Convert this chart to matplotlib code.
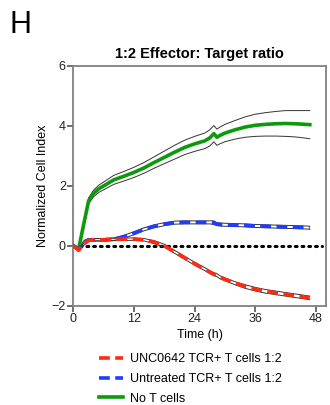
import matplotlib.pyplot as plt
from matplotlib.lines import Line2D

plt.rcParams['font.family'] = ['Liberation Sans', 'DejaVu Sans']

# time points (h)
t = [0, 1, 2, 3, 4, 5, 6, 8, 10, 12, 14, 16, 18, 20, 22, 24, 26, 27, 27.8, 28.4,
     29, 30, 32, 34, 36, 38, 40, 42, 44, 46, 46.8]

no_t = [0, -0.12, 0.7, 1.5, 1.75, 1.9, 2.0, 2.2, 2.32, 2.45, 2.6, 2.78, 2.95, 3.12,
        3.28, 3.4, 3.5, 3.6, 3.74, 3.62, 3.68, 3.76, 3.87, 3.96, 4.02, 4.05, 4.07,
        4.08, 4.07, 4.05, 4.04]
no_t_sd = [0, 0.04, 0.08, 0.1, 0.11, 0.12, 0.13, 0.15, 0.16, 0.17, 0.18, 0.19, 0.21,
           0.23, 0.24, 0.25, 0.26, 0.27, 0.27, 0.27, 0.28, 0.29, 0.31, 0.34, 0.37,
           0.39, 0.41, 0.43, 0.44, 0.46, 0.47]

untreated = [0, -0.12, 0.12, 0.2, 0.2, 0.2, 0.2, 0.22, 0.3, 0.42, 0.55, 0.65, 0.72,
             0.77, 0.78, 0.78, 0.78, 0.78, 0.77, 0.72, 0.71, 0.7, 0.69, 0.68, 0.66,
             0.65, 0.64, 0.63, 0.62, 0.61, 0.6]
untreated_sd = [0.02, 0.03, 0.04, 0.04, 0.04, 0.04, 0.04, 0.04, 0.05, 0.05, 0.05,
                0.05, 0.05, 0.05, 0.05, 0.05, 0.05, 0.05, 0.06, 0.05, 0.05, 0.05,
                0.05, 0.05, 0.05, 0.05, 0.05, 0.05, 0.05, 0.05, 0.05]

unc0642 = [0, -0.15, 0.05, 0.18, 0.2, 0.2, 0.2, 0.21, 0.22, 0.22, 0.2, 0.12, 0.0,
           -0.2, -0.4, -0.6, -0.78, -0.88, -0.95, -0.98, -1.05, -1.12, -1.25, -1.36,
           -1.45, -1.52, -1.57, -1.62, -1.67, -1.72, -1.74]
unc0642_sd = [0.02, 0.03, 0.04, 0.04, 0.04, 0.04, 0.04, 0.04, 0.04, 0.04, 0.04,
              0.05, 0.05, 0.05, 0.05, 0.05, 0.05, 0.05, 0.05, 0.05, 0.05, 0.05,
              0.05, 0.06, 0.06, 0.06, 0.06, 0.06, 0.06, 0.06, 0.06]

red = '#ff2a10'
blue = '#1f3cff'
green = '#0c9a0c'

fig = plt.figure(figsize=(3.3, 4.05), dpi=100)
ax = fig.add_axes([0.2227, 0.2452, 0.765, 0.592])

ax.plot([0, 49.2], [0, 0], color='black', linestyle=(0, (0.6, 1.6)), lw=2.2,
        dash_capstyle='round', zorder=2)


def band(y, sd):
    up = [a + b for a, b in zip(y, sd)]
    lo = [a - b for a, b in zip(y, sd)]
    ax.plot(t, up, color='#333333', lw=0.7, zorder=3)
    ax.plot(t, lo, color='#333333', lw=0.7, zorder=3)


band(no_t, no_t_sd)
band(untreated, untreated_sd)
band(unc0642, unc0642_sd)

ax.plot(t, no_t, color=green, lw=2.6, zorder=4)
ax.plot(t, untreated, color=blue, lw=2.6, linestyle=(0, (3, 1.5)), zorder=5)
ax.plot(t, unc0642, color=red, lw=2.6, linestyle=(0, (3, 1.5)), zorder=6)

ax.set_xlim(0, 50)
ax.set_ylim(-2, 6)
ax.set_xticks([0, 12, 24, 36, 48])
ax.set_yticks([-2, 0, 2, 4, 6])
for s in ax.spines.values():
    s.set_color('#808080')
    s.set_linewidth(1.3)
ax.tick_params(direction='out', length=4, width=1.2, color='#555555',
               labelsize=9, pad=1.5, labelcolor='#222222')

ax.set_title('1:2 Effector: Target ratio', fontsize=10.5, fontweight='bold', pad=6)
ax.set_xlabel('Time (h)', fontsize=9, labelpad=2.5)
ax.set_ylabel('Normalized Cell Index', fontsize=9, labelpad=2)

fig.text(0.03, 0.975, 'H', fontsize=22, va='top', ha='left')

handles = [
    Line2D([], [], color=red, lw=2.6, linestyle=(0, (3, 1.5))),
    Line2D([], [], color=blue, lw=2.6, linestyle=(0, (3, 1.5))),
    Line2D([], [], color=green, lw=2.6),
]
labels = ['UNC0642 TCR+ T cells 1:2', 'Untreated TCR+ T cells 1:2', 'No T cells']
fig.legend(handles, labels, loc='upper left', bbox_to_anchor=(0.285, 0.14),
           frameon=False, fontsize=9, handlelength=1.9, handletextpad=0.6,
           labelspacing=0.62, borderaxespad=0)

fig.savefig('out.png', dpi=100)
